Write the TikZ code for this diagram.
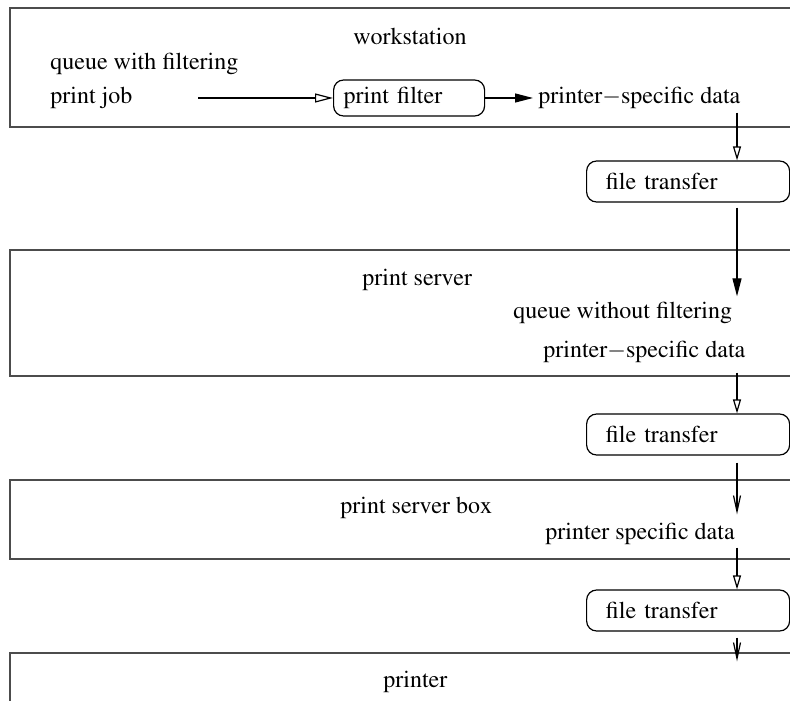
\documentclass[tikz,border=0pt]{standalone}
\usepackage[T1]{fontenc}
\usepackage{mathptmx}
\usetikzlibrary{arrows.meta, positioning}

\begin{document}
\begin{tikzpicture}[x=0.5pt, y=-0.5pt,
  font=\rmfamily\fontsize{12}{14}\selectfont,
  frame/.style = {draw=black!70, line width=0.8pt},
  txt/.style = {inner sep=0pt, anchor=base west},
  proc/.style = {draw, rounded corners=5pt, line width=0.6pt, anchor=west, align=left, inner ysep=0pt, minimum height=20.5pt},
  flow/.style = {line width=0.6pt},
  opentip/.style = {flow, -{Triangle[open, length=7pt, width=4pt]}},
  longopentip/.style = {flow, -{Triangle[open, length=9pt, width=4.5pt]}},
  filltip/.style = {flow, -{Triangle[length=9pt, width=4.5pt]}},
  veetip/.style = {flow, -{Straight Barb[length=8pt, width=3.5pt]}},
]

\useasboundingbox (0,0) rectangle (790,700);
\clip (0,0) rectangle (790,700);

% the four machines, cut off at the right
\draw[frame] (10,8)   rectangle (820,127);
\draw[frame] (10,250) rectangle (820,376);
\draw[frame] (10,480) rectangle (820,559);
\draw[frame] (10,653) rectangle (820,720);

% column of the downward flow
\coordinate (col) at (737,0);

% workstation
\node[txt] (ws)    at (353,45)  {workstation};
\node[txt] (qwf)   at (50,70)   {queue with filtering};
\node[txt] (job)   at (50,104)  {print job};
\node[proc, text width=65.5pt, inner xsep=5pt, minimum height=18pt] (filter) at (333,98) {print filter};
\node[txt] (dataA) at (538,104) {printer$-$specific data};
\coordinate (jobout) at (198,98);

% file transfer 1
\node[proc, text width=82.5pt, inner xsep=9.5pt] (ftA) at (586,181.5) {file transfer};

% print server
\node[txt] (srv)    at (362,285) {print server};
\node[txt] (queueB) at (513,318) {queue without filtering};
\node[txt] (dataB)  at (543,357) {printer$-$specific data};

% file transfer 2
\node[proc, text width=82.5pt, inner xsep=9.5pt] (ftB) at (586,434.5) {file transfer};

% print server box
\node[txt] (psb)   at (340,513) {print server box};
\node[txt] (dataC) at (545,539) {printer specific data};

% file transfer 3
\node[proc, text width=82.5pt, inner xsep=9.5pt] (ftC) at (586,610.5) {file transfer};

% printer
\node[txt] (prn) at (383,687) {printer};

%--- job -> filter -> data
\draw[longopentip] (jobout) -- (filter.west);
\draw[filltip, shorten >=2.5pt] (filter.east) -- (filter.east -| dataA.west);

%--- down the column
\draw[opentip, shorten <=1.5pt] (dataA.south -| col) -- (ftA.north -| col);
\draw[filltip, shorten <=2.5pt, shorten >=2.5pt] (ftA.south -| col) -- (queueB.north -| col);
\draw[opentip, shorten <=5pt] (dataB.south -| col) -- (ftB.north -| col);
\draw[veetip, shorten <=3.5pt, shorten >=4pt] (ftB.south -| col) -- (dataC.north -| col);
\draw[opentip, shorten <=1.5pt] (dataC.south -| col) -- (ftC.north -| col);
\draw[veetip, shorten <=3pt, shorten >=4.5pt] (ftC.south -| col) -- (prn.north -| col);

\end{tikzpicture}
\end{document}
